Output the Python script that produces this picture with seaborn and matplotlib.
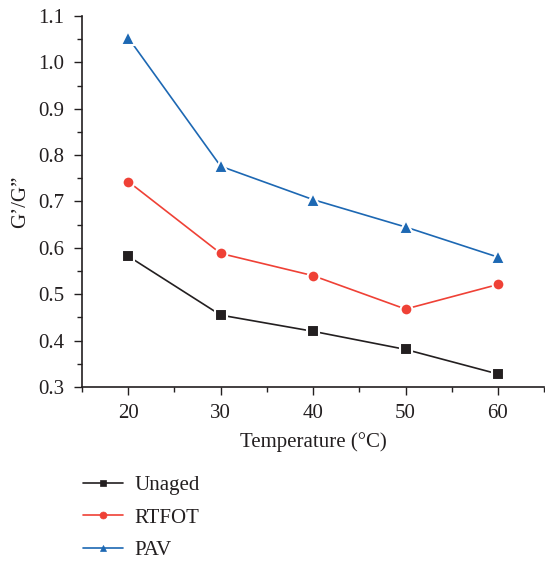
import matplotlib
matplotlib.use("Agg")
import matplotlib.pyplot as plt
import seaborn as sns
import pandas as pd
from matplotlib.ticker import MultipleLocator
from matplotlib.lines import Line2D

temperature = [20, 30, 40, 50, 60]
unaged = [0.582, 0.455, 0.420, 0.381, 0.328]
rtfot = [0.743, 0.588, 0.540, 0.468, 0.521]
pav = [1.053, 0.776, 0.704, 0.645, 0.580]
series_names = ["Unaged", "RTFOT", "PAV"]

sns.set_style("ticks")
plt.rcParams['font.family'] = ['Liberation Serif', 'DejaVu Serif']

fig = plt.figure(figsize=(5.45, 5.69), dpi=100)
ax = fig.add_axes([0.1505, 0.3199, 0.848, 0.652])

df = pd.DataFrame({
    "Temperature": temperature * 3,
    "value": unaged + rtfot + pav,
    "series": sum([[n] * len(temperature) for n in series_names], []),
})

colors = {"Unaged": "#231f20", "RTFOT": "#ef4136", "PAV": "#1d68b3"}
markers = {"Unaged": "s", "RTFOT": "o", "PAV": "^"}
sizes = {"Unaged": 8, "RTFOT": 8.5, "PAV": 10.5}

for name in series_names:
    sub = df[df["series"] == name]
    n_before = len(ax.lines)
    sns.lineplot(data=sub, x="Temperature", y="value", ax=ax, color=colors[name],
                 marker=markers[name], markeredgecolor="white",
                 markeredgewidth=1.5, linewidth=1.2, label=name, legend=False)
    for ln in ax.lines[n_before:]:
        ln.set_markersize(sizes[name])
        ln.set_markeredgewidth(1.5)
        ln.set_markeredgecolor("white")

ax.set_xlim(15, 65)
ax.set_ylim(0.3, 1.1)
ax.xaxis.set_major_locator(MultipleLocator(10))
ax.xaxis.set_minor_locator(MultipleLocator(5))
ax.yaxis.set_major_locator(MultipleLocator(0.1))
ax.yaxis.set_minor_locator(MultipleLocator(0.05))
ax.yaxis.set_major_formatter(matplotlib.ticker.FormatStrFormatter('%.1f'))
ax.tick_params(which='major', direction='out', length=5.5, width=1.0, labelsize=15,
               color='#231f20', labelcolor='#231f20')
ax.tick_params(axis='y', which='major', pad=7)
ax.tick_params(axis='x', which='major', pad=7)
ax.tick_params(which='minor', direction='out', length=3.5, width=1.0, color='#231f20')
for s in ['top', 'right']:
    ax.spines[s].set_visible(False)
for s in ['left', 'bottom']:
    ax.spines[s].set_linewidth(1.2)
    ax.spines[s].set_color('#231f20')

ax.set_xlabel("Temperature (°C)", fontsize=15, color='#231f20', labelpad=6)
ax.set_ylabel("G’/G”", fontsize=15, color='#231f20', labelpad=6)

handles = [Line2D([], [], color=colors[n], marker=markers[n], markersize=5,
                  markeredgewidth=0.5, markeredgecolor=colors[n], linewidth=1.2)
           for n in series_names]
fig.legend(handles, series_names, loc='upper left', bbox_to_anchor=(0.118, 0.197),
           frameon=False, fontsize=15, handlelength=1.9, labelspacing=0.62,
           handletextpad=0.55, labelcolor='#231f20')

fig.savefig("out.png", dpi=100)
